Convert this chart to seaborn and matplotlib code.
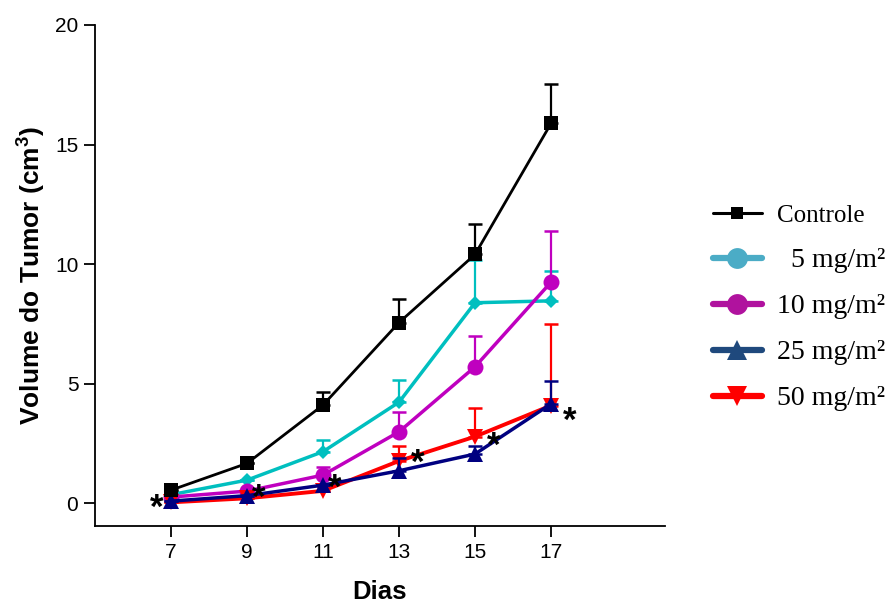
import matplotlib
matplotlib.use("Agg")
import matplotlib.pyplot as plt
import matplotlib.transforms as mtransforms
from matplotlib.lines import Line2D
import numpy as np
import pandas as pd
import seaborn as sns

# Tumour volume (cm^3) by treatment group and day
dias = [7, 9, 11, 13, 15, 17]
grupos = ["Controle", "5 mg/m²", "10 mg/m²", "25 mg/m²", "50 mg/m²"]
controle = [0.54, 1.66, 4.10, 7.55, 10.40, 15.88]
dose_5 = [0.35, 0.96, 2.15, 4.22, 8.38, 8.46]
dose_10 = [0.25, 0.50, 1.17, 2.98, 5.70, 9.24]
dose_25 = [0.08, 0.31, 0.75, 1.35, 2.05, 4.15]
dose_50 = [0.03, 0.20, 0.51, 1.76, 2.78, 4.08]
# upper error (SEM) per point
err_controle = [0.0, 0.0, 0.55, 1.0, 1.27, 1.66]
err_5 = [0.0, 0.0, 0.48, 0.93, 1.80, 1.26]
err_10 = [0.0, 0.0, 0.35, 0.84, 1.29, 2.15]
err_25 = [0.0, 0.0, 0.0, 0.52, 0.35, 0.95]
err_50 = [0.0, 0.0, 0.0, 0.64, 1.18, 3.42]
# significance markers: (day position, height)
sig_x = [6.63, 9.32, 11.31, 13.48, 15.49, 17.48]
sig_y = [0.0, 0.42, 0.84, 1.88, 2.60, 3.65]

valores = [controle, dose_5, dose_10, dose_25, dose_50]
erros = [err_controle, err_5, err_10, err_25, err_50]

df = pd.DataFrame({
    "Dias": np.tile(dias, len(grupos)),
    "Volume": np.concatenate(valores),
    "Grupo": np.repeat(grupos, len(dias)),
})

sns.set_theme(style="ticks")
plt.rcParams["font.family"] = ["Liberation Sans", "DejaVu Sans"]
plt.rcParams["text.color"] = "black"
plt.rcParams["axes.labelcolor"] = "black"
plt.rcParams["mathtext.fontset"] = "custom"
plt.rcParams["mathtext.bf"] = "Liberation Sans:bold"
plt.rcParams["mathtext.rm"] = "Liberation Sans"

fig = plt.figure(figsize=(8.94, 6.05), dpi=100)
ax = fig.add_axes([95 / 894, 1 - 526 / 605, (665 - 95) / 894, (526 - 25) / 605])

line_style = {
    "Controle": dict(color="black", marker="s", ms=10.5, lw=2.0, z=6),
    "5 mg/m²": dict(color="#00BFBF", marker="D", ms=7.5, lw=2.5, z=2),
    "10 mg/m²": dict(color="#BF00BF", marker="o", ms=11.5, lw=2.5, z=3),
    "25 mg/m²": dict(color="#000080", marker="^", ms=11, lw=2.5, z=5),
    "50 mg/m²": dict(color="#FF0000", marker="v", ms=11, lw=2.8, z=4),
}

for g, err in zip(grupos, erros):
    st = line_style[g]
    sub = df[df["Grupo"] == g]
    sns.lineplot(data=sub, x="Dias", y="Volume", ax=ax, color=st["color"],
                 marker=st["marker"], markersize=st["ms"], markeredgewidth=0,
                 linewidth=st["lw"], legend=False, zorder=st["z"])
    yerr = np.vstack([np.zeros(len(err)), err])
    ax.errorbar(sub["Dias"], sub["Volume"], yerr=yerr, fmt="none",
                ecolor=st["color"], elinewidth=1.6, capsize=5, capthick=1.8,
                zorder=st["z"] - 0.5)

# significance asterisks
off = mtransforms.offset_copy(ax.transData, fig=fig, x=0, y=-15, units="dots")
for x, y in zip(sig_x, sig_y):
    ax.text(x, y, "*", transform=off, ha="center", va="baseline",
            fontsize=25, fontweight="bold", color="black", zorder=10)

ax.set_xlim(5, 20)
ax.set_ylim(-0.96, 20)
ax.set_xticks(dias)
ax.set_yticks([0, 5, 10, 15, 20])
ax.tick_params(axis="both", labelsize=15, length=8, width=1.3, color="black",
               labelcolor="black", direction="out", pad=4)
for s in ["top", "right"]:
    ax.spines[s].set_visible(False)
for s in ["left", "bottom"]:
    ax.spines[s].set_linewidth(1.3)
    ax.spines[s].set_color("black")

ax.set_xlabel("Dias", fontsize=18.5, fontweight="bold", labelpad=13)
ax.set_ylabel(r"Volume do Tumor (cm$^\mathbf{3}$)", fontsize=19,
              fontweight="bold", labelpad=6)

legend_colors = ["black", "#4BACC6", "#B0129E", "#1F497D", "#FF0000"]
legend_markers = ["s", "o", "o", "^", "v"]
legend_ms = [9, 15, 15, 15, 15]
legend_lw = [2.2, 4.5, 4.5, 4.5, 4.5]
handles = [Line2D([0], [0], color=c, marker=m, markersize=s, lw=w,
                  markeredgewidth=0)
           for c, m, s, w in zip(legend_colors, legend_markers, legend_ms,
                                 legend_lw)]
labels = ["Controle", "  5 mg/m²", "10 mg/m²", "25 mg/m²", "50 mg/m²"]
leg = fig.legend(handles, labels, loc="upper left",
                 bbox_to_anchor=(699 / 894, 1 - 189 / 605),
                 frameon=False, borderpad=0, handlelength=1.75,
                 handletextpad=0.55, labelspacing=0.74,
                 prop={"family": ["Liberation Serif", "DejaVu Serif"],
                       "size": 20})
leg.get_texts()[0].set_fontsize(18)

fig.savefig("out.png", dpi=100)
